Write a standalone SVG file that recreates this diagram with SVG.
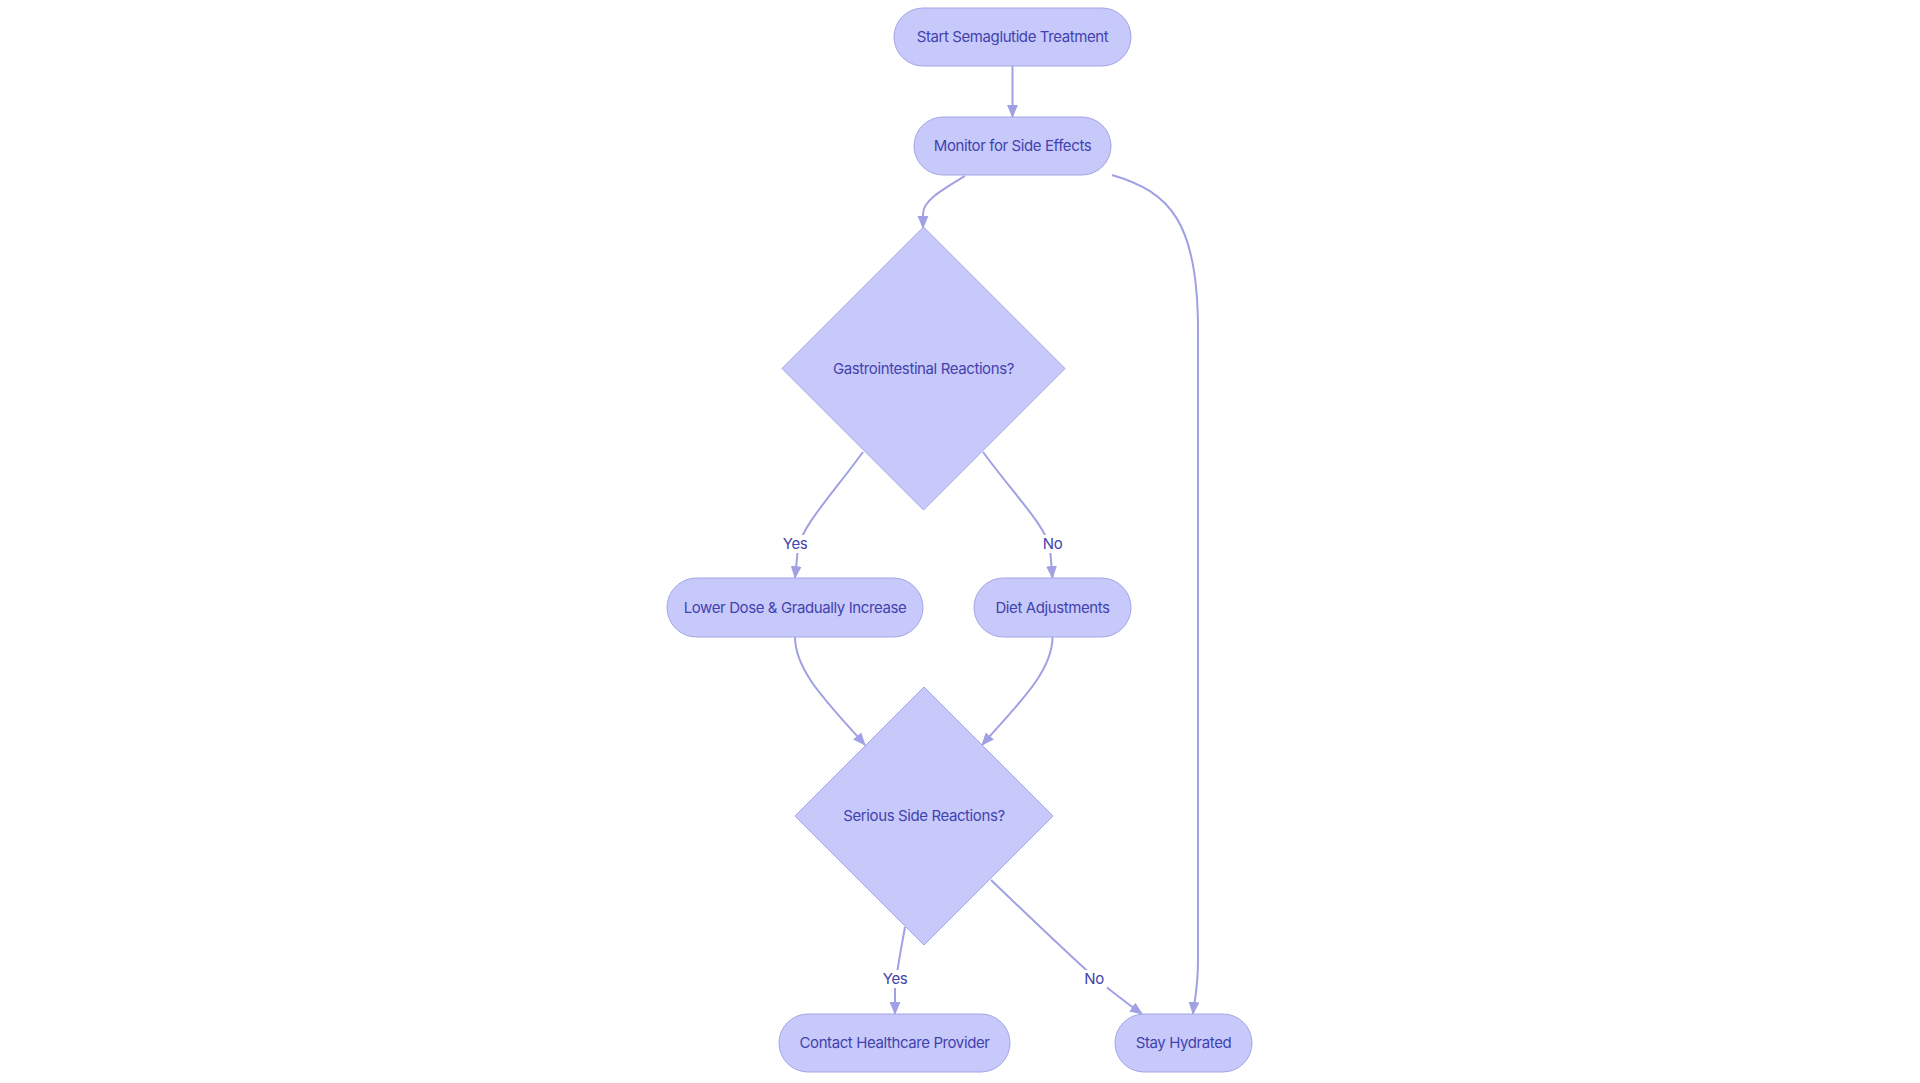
<svg xmlns="http://www.w3.org/2000/svg" width="1920" height="1083" viewBox="0 0 1920 1083">
<defs>
<style>
.node{fill:#c8c9fb;stroke:#a3a4e6;stroke-width:1}
.lbl{font-family:Inter,"Noto Sans",sans-serif;font-size:15px;fill:#4242ae;text-anchor:middle;dominant-baseline:central;letter-spacing:-0.4px}
.edge{fill:none;stroke:#a0a0e4;stroke-width:2}
.elbg{fill:#ffffff}
</style>
<marker id="ah" viewBox="0 0 12 12" refX="11" refY="6" markerWidth="13" markerHeight="13" markerUnits="userSpaceOnUse" orient="auto">
<path d="M0,1 L12,6 L0,11 z" fill="#a0a0e4"/>
</marker>
</defs>
<rect width="1920" height="1083" fill="#ffffff"/>
<g id="connectors">
<path class="edge" d="M1012.5,66 L1012.5,117" marker-end="url(#ah)"/>
<path class="edge" d="M965,176 C940,191 923,201 923,214 L923,228" marker-end="url(#ah)"/>
<path class="edge" d="M1112,175 C1170,192 1198,222 1198,330 L1198,960 C1198,990 1194,1002 1193,1014" marker-end="url(#ah)"/>
<path class="edge" d="M863,452 C830,497 803,525 798,548 L795,578" marker-end="url(#ah)"/>
<path class="edge" d="M983,452 C1016,497 1045,525 1050,548 L1052.5,578" marker-end="url(#ah)"/>
<path class="edge" d="M795,637 C795,672 830,705 865,745" marker-end="url(#ah)"/>
<path class="edge" d="M1052.5,637 C1052.5,672 1017,705 982,745" marker-end="url(#ah)"/>
<path class="edge" d="M905,927 C900,955 896,975 895,990 L895,1014" marker-end="url(#ah)"/>
<path class="edge" d="M991,880 C1040,927 1075,960 1095,978 C1110,990 1125,1002 1142,1014" marker-end="url(#ah)"/>
<rect class="elbg" x="781" y="535" width="28" height="18"/>
<text class="lbl" x="795" y="543.5">Yes</text>
<rect class="elbg" x="1040" y="535" width="25" height="18"/>
<text class="lbl" x="1052.5" y="543.5">No</text>
<rect class="elbg" x="881" y="970" width="28" height="18"/>
<text class="lbl" x="895" y="978.5">Yes</text>
<rect class="elbg" x="1082" y="970" width="25" height="18"/>
<text class="lbl" x="1094" y="978.5">No</text>
</g>
<g id="start">
<rect class="node" x="894" y="8" width="237" height="58" rx="29" ry="29"/>
<text class="lbl" x="1012.5" y="36">Start Semaglutide Treatment</text>
</g>
<g id="monitor">
<rect class="node" x="914" y="117" width="197" height="58" rx="29" ry="29"/>
<text class="lbl" x="1012.5" y="145.5">Monitor for Side Effects</text>
</g>
<g id="gi">
<polygon class="node" points="923.5,227 1065,368.5 923.5,510 782,368.5"/>
<text class="lbl" x="923.5" y="368">Gastrointestinal Reactions?</text>
</g>
<g id="lower">
<rect class="node" x="667" y="578" width="256" height="59" rx="29.5" ry="29.5"/>
<text class="lbl" x="795" y="607">Lower Dose &amp; Gradually Increase</text>
</g>
<g id="diet">
<rect class="node" x="974" y="578" width="157" height="59" rx="29.5" ry="29.5"/>
<text class="lbl" x="1052.5" y="607">Diet Adjustments</text>
</g>
<g id="serious">
<polygon class="node" points="924,687 1053,816 924,945 795,816"/>
<text class="lbl" x="924" y="815.5">Serious Side Reactions?</text>
</g>
<g id="contact">
<rect class="node" x="779" y="1014" width="231" height="58" rx="29" ry="29"/>
<text class="lbl" x="894.5" y="1042.5">Contact Healthcare Provider</text>
</g>
<g id="hydrated">
<rect class="node" x="1115" y="1014" width="137" height="58" rx="29" ry="29"/>
<text class="lbl" x="1183.5" y="1042.5">Stay Hydrated</text>
</g>
</svg>
